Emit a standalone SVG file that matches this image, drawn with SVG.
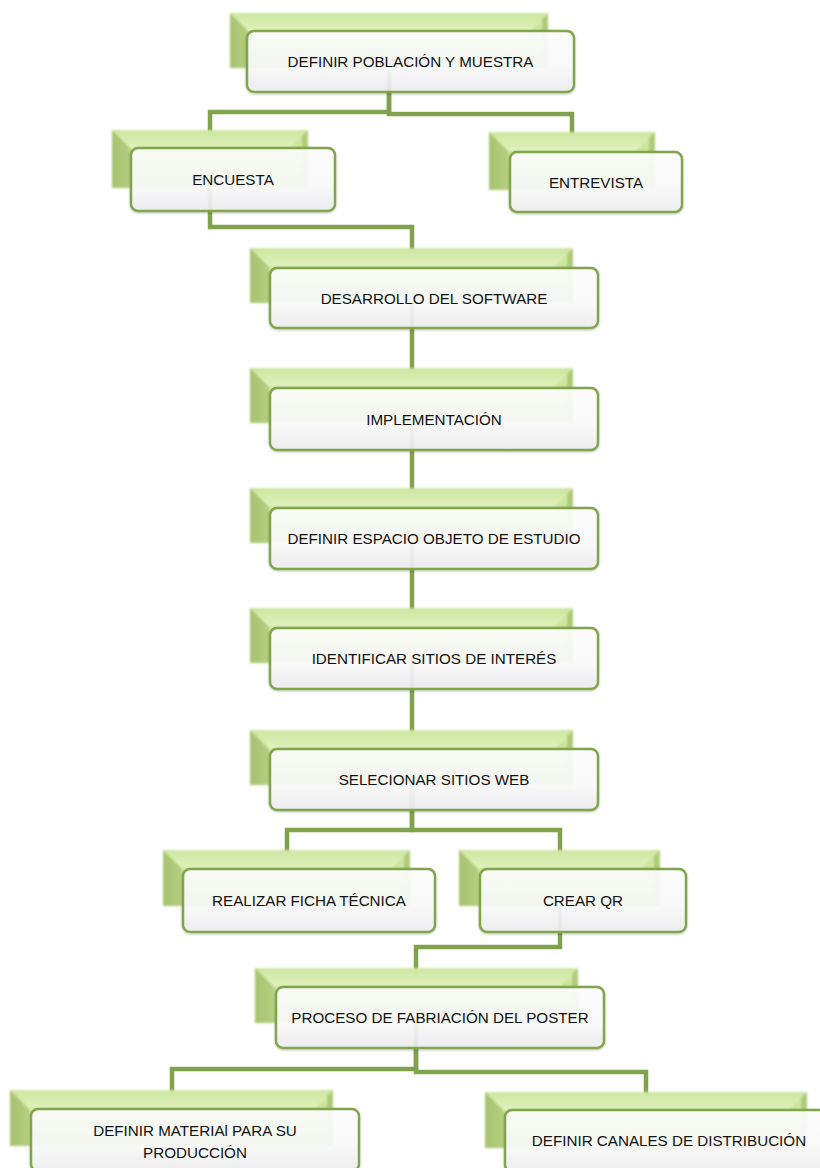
<svg xmlns="http://www.w3.org/2000/svg" width="820" height="1168" viewBox="0 0 820 1168">
<defs>
<linearGradient id="gBack" x1="0" y1="0" x2="0" y2="1"><stop offset="0" stop-color="#d3eba6"/><stop offset="1" stop-color="#b9d783"/></linearGradient>
<linearGradient id="gTop" x1="0" y1="0" x2="0" y2="1"><stop offset="0" stop-color="#cde6a0"/><stop offset="1" stop-color="#dff2bd"/></linearGradient>
<linearGradient id="gLeft" x1="0" y1="0" x2="1" y2="0"><stop offset="0" stop-color="#a6c36f"/><stop offset="1" stop-color="#b4cf80"/></linearGradient>
<linearGradient id="gFront" x1="0" y1="0" x2="0" y2="1"><stop offset="0" stop-color="#ffffff"/><stop offset="0.6" stop-color="#fbfbfc"/><stop offset="1" stop-color="#eeeef0"/></linearGradient>
<filter id="soft" x="-10%" y="-10%" width="120%" height="130%"><feGaussianBlur stdDeviation="0.8"/></filter>
<filter id="sh" x="-10%" y="-10%" width="120%" height="130%"><feDropShadow dx="0" dy="1" stdDeviation="1.2" flood-color="#000" flood-opacity="0.25"/></filter>
</defs>
<style>
.bk{fill:url(#gBack)}
.bt{fill:url(#gTop)}
.bl{fill:url(#gLeft)}
.br{fill:#aecb78}
.back{filter:url(#soft)}
.fr{fill:url(#gFront);fill-opacity:0.9;stroke:#80a54c;stroke-width:2.5;filter:url(#sh)}
.tx{font-family:"Liberation Sans",Arial,sans-serif;font-size:15.2px;fill:#111;text-anchor:middle}
.cn{fill:none;stroke:#80a24c;stroke-width:4.5;stroke-linejoin:miter}
</style>
<rect width="820" height="1168" fill="#ffffff"/>
<g id="connectors">
<path class="cn" d="M389,70 V112 H210 V136"/>
<path class="cn" d="M389,70 V114 H572 V138"/>
<path class="cn" d="M210,186 V227 H412 V254"/>
<path class="cn" d="M412,300 V374"/>
<path class="cn" d="M412,420 V494"/>
<path class="cn" d="M412,540 V614"/>
<path class="cn" d="M412,660 V736"/>
<path class="cn" d="M412,782 V830 H287 V856"/>
<path class="cn" d="M412,782 V830 H560 V856"/>
<path class="cn" d="M560,904 V947 H416 V974"/>
<path class="cn" d="M416,1020 V1069 H172 V1096"/>
<path class="cn" d="M416,1020 V1072 H646 V1098"/>
</g>
<g id="n1">
<g class="back"><rect class="bk" x="230" y="13" width="318" height="55"/><polygon class="bt" points="230,13 548,13 529,32 249,32"/><polygon class="bl" points="230,13 249,32 249,68 230,68"/><polygon class="br" points="548,13 548,68 542,62 542,19"/></g>
<rect class="fr" x="247" y="31" width="327" height="61" rx="7"/>
<text class="tx" x="410.5" y="67">DEFINIR POBLACIÓN Y MUESTRA</text>
</g>
<g id="n2">
<g class="back"><rect class="bk" x="112" y="130" width="196" height="58"/><polygon class="bt" points="112,130 308,130 289,149 131,149"/><polygon class="bl" points="112,130 131,149 131,188 112,188"/><polygon class="br" points="308,130 308,188 302,182 302,136"/></g>
<rect class="fr" x="131" y="148" width="204" height="63" rx="7"/>
<text class="tx" x="233" y="185">ENCUESTA</text>
</g>
<g id="n3">
<g class="back"><rect class="bk" x="489" y="132" width="166" height="58"/><polygon class="bt" points="489,132 655,132 636,151 508,151"/><polygon class="bl" points="489,132 508,151 508,190 489,190"/><polygon class="br" points="655,132 655,190 649,184 649,138"/></g>
<rect class="fr" x="510" y="152" width="172" height="60" rx="7"/>
<text class="tx" x="596" y="187.5">ENTREVISTA</text>
</g>
<g id="n4">
<g class="back"><rect class="bk" x="250" y="248" width="323" height="55"/><polygon class="bt" points="250,248 573,248 554,267 269,267"/><polygon class="bl" points="250,248 269,267 269,303 250,303"/><polygon class="br" points="573,248 573,303 567,297 567,254"/></g>
<rect class="fr" x="270" y="268" width="328" height="60" rx="7"/>
<text class="tx" x="434" y="303.5">DESARROLLO DEL SOFTWARE</text>
</g>
<g id="n5">
<g class="back"><rect class="bk" x="250" y="368" width="323" height="55"/><polygon class="bt" points="250,368 573,368 554,387 269,387"/><polygon class="bl" points="250,368 269,387 269,423 250,423"/><polygon class="br" points="573,368 573,423 567,417 567,374"/></g>
<rect class="fr" x="270" y="388" width="328" height="62" rx="7"/>
<text class="tx" x="434" y="424.5">IMPLEMENTACIÓN</text>
</g>
<g id="n6">
<g class="back"><rect class="bk" x="250" y="488" width="323" height="55"/><polygon class="bt" points="250,488 573,488 554,507 269,507"/><polygon class="bl" points="250,488 269,507 269,543 250,543"/><polygon class="br" points="573,488 573,543 567,537 567,494"/></g>
<rect class="fr" x="270" y="508" width="328" height="61" rx="7"/>
<text class="tx" x="434" y="544">DEFINIR ESPACIO OBJETO DE ESTUDIO</text>
</g>
<g id="n7">
<g class="back"><rect class="bk" x="250" y="608" width="323" height="55"/><polygon class="bt" points="250,608 573,608 554,627 269,627"/><polygon class="bl" points="250,608 269,627 269,663 250,663"/><polygon class="br" points="573,608 573,663 567,657 567,614"/></g>
<rect class="fr" x="270" y="628" width="328" height="61" rx="7"/>
<text class="tx" x="434" y="664">IDENTIFICAR SITIOS DE INTERÉS</text>
</g>
<g id="n8">
<g class="back"><rect class="bk" x="250" y="730" width="323" height="55"/><polygon class="bt" points="250,730 573,730 554,749 269,749"/><polygon class="bl" points="250,730 269,749 269,785 250,785"/><polygon class="br" points="573,730 573,785 567,779 567,736"/></g>
<rect class="fr" x="270" y="749" width="328" height="61" rx="7"/>
<text class="tx" x="434" y="785">SELECIONAR SITIOS WEB</text>
</g>
<g id="n9">
<g class="back"><rect class="bk" x="163" y="850" width="247" height="56"/><polygon class="bt" points="163,850 410,850 391,869 182,869"/><polygon class="bl" points="163,850 182,869 182,906 163,906"/><polygon class="br" points="410,850 410,906 404,900 404,856"/></g>
<rect class="fr" x="183" y="869" width="252" height="63" rx="7"/>
<text class="tx" x="309" y="906">REALIZAR FICHA TÉCNICA</text>
</g>
<g id="n10">
<g class="back"><rect class="bk" x="459" y="850" width="201" height="56"/><polygon class="bt" points="459,850 660,850 641,869 478,869"/><polygon class="bl" points="459,850 478,869 478,906 459,906"/><polygon class="br" points="660,850 660,906 654,900 654,856"/></g>
<rect class="fr" x="480" y="869" width="206" height="63" rx="7"/>
<text class="tx" x="583" y="906">CREAR QR</text>
</g>
<g id="n11">
<g class="back"><rect class="bk" x="255" y="968" width="323" height="55"/><polygon class="bt" points="255,968 578,968 559,987 274,987"/><polygon class="bl" points="255,968 274,987 274,1023 255,1023"/><polygon class="br" points="578,968 578,1023 572,1017 572,974"/></g>
<rect class="fr" x="276" y="987" width="328" height="61" rx="7"/>
<text class="tx" x="440" y="1023">PROCESO DE FABRIACIÓN DEL POSTER</text>
</g>
<g id="n12">
<g class="back"><rect class="bk" x="10" y="1090" width="323" height="56"/><polygon class="bt" points="10,1090 333,1090 314,1109 29,1109"/><polygon class="bl" points="10,1090 29,1109 29,1146 10,1146"/><polygon class="br" points="333,1090 333,1146 327,1140 327,1096"/></g>
<rect class="fr" x="31" y="1109" width="328" height="62" rx="7"/>
<text class="tx" x="195" y="1135.5">DEFINIR MATERIAl PARA SU</text>
<text class="tx" x="195" y="1157.5">PRODUCCIÓN</text>
</g>
<g id="n13">
<g class="back"><rect class="bk" x="485" y="1092" width="322" height="56"/><polygon class="bt" points="485,1092 807,1092 788,1111 504,1111"/><polygon class="bl" points="485,1092 504,1111 504,1148 485,1148"/><polygon class="br" points="807,1092 807,1148 801,1142 801,1098"/></g>
<rect class="fr" x="505" y="1110" width="328" height="62" rx="7"/>
<text class="tx" x="669" y="1145.5">DEFINIR CANALES DE DISTRIBUCIÓN</text>
</g>
</svg>
